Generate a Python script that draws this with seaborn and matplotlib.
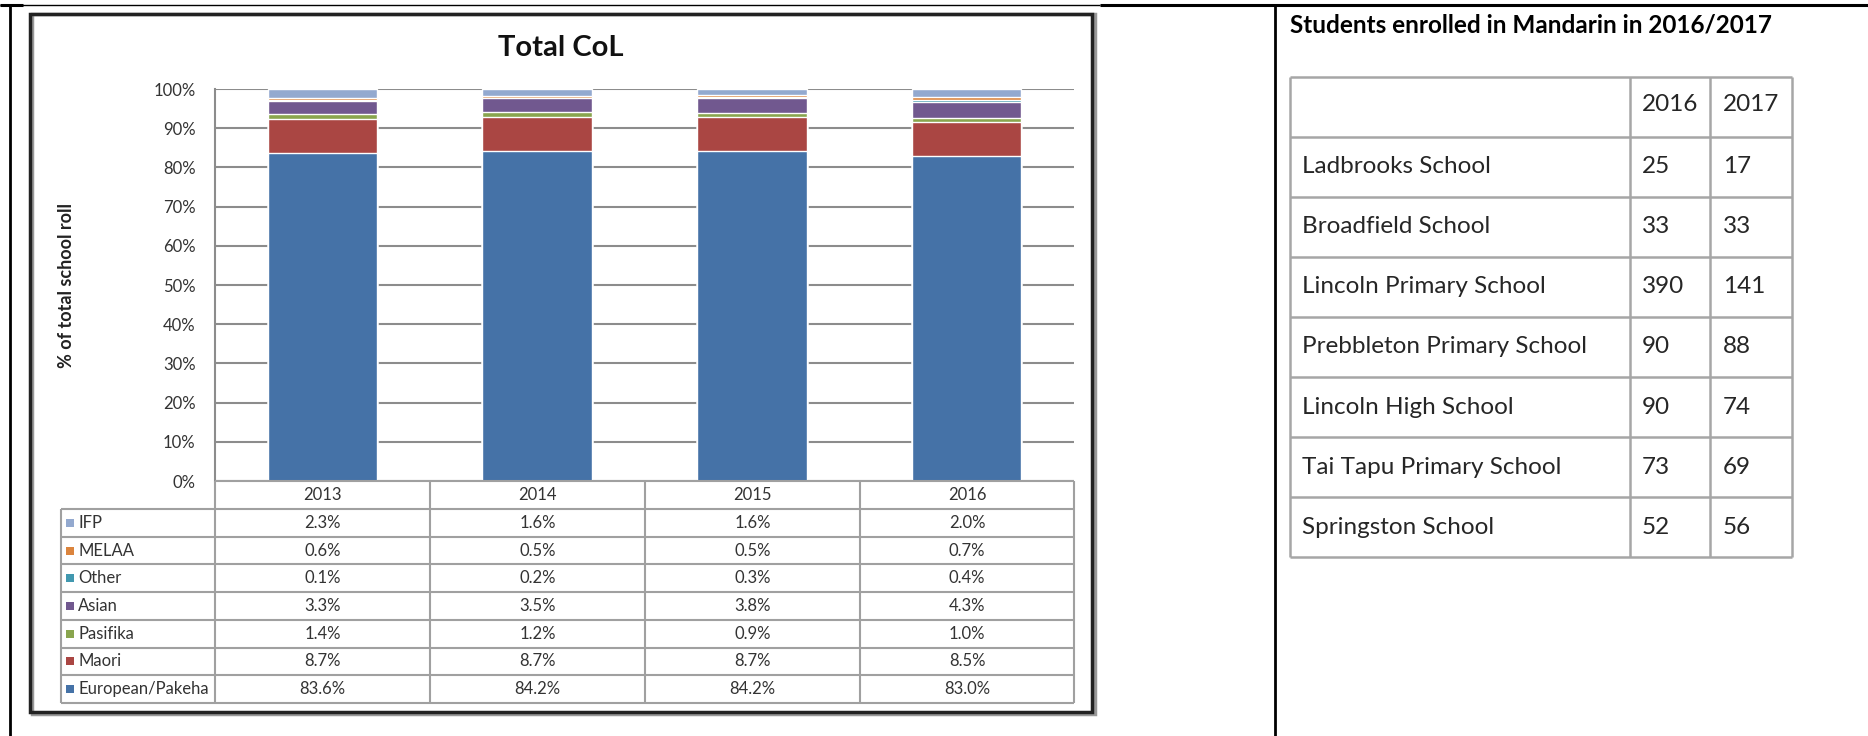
import numpy as np
import pandas as pd
import seaborn as sns
import matplotlib
matplotlib.use('Agg')
import matplotlib.pyplot as plt
from matplotlib.lines import Line2D
from matplotlib.patches import Rectangle

# chart data (percent of total school roll)
years = ['2013', '2014', '2015', '2016']
groups = ['IFP', 'MELAA', 'Other', 'Asian', 'Pasifika', 'Maori', 'European/Pakeha']
ifp = [2.3, 1.6, 1.6, 2.0]
melaa = [0.6, 0.5, 0.5, 0.7]
other = [0.1, 0.2, 0.3, 0.4]
asian = [3.3, 3.5, 3.8, 4.3]
pasifika = [1.4, 1.2, 0.9, 1.0]
maori = [8.7, 8.7, 8.7, 8.5]
european = [83.6, 84.2, 84.2, 83.0]

# mandarin table data
schools = ['Ladbrooks School', 'Broadfield School', 'Lincoln Primary School',
           'Prebbleton Primary School', 'Lincoln High School',
           'Tai Tapu Primary School', 'Springston School']
enrol_2016 = [25, 33, 390, 90, 90, 73, 52]
enrol_2017 = [17, 33, 141, 88, 74, 69, 56]

colors = {'IFP': '#93A9CF', 'MELAA': '#DB843D', 'Other': '#4198AF', 'Asian': '#71588F',
          'Pasifika': '#89A54E', 'Maori': '#AA4643', 'European/Pakeha': '#4572A7'}

series = {'IFP': ifp, 'MELAA': melaa, 'Other': other, 'Asian': asian,
          'Pasifika': pasifika, 'Maori': maori, 'European/Pakeha': european}

sns.set_theme(style='white')
plt.rcParams['font.family'] = ['Lato', 'DejaVu Sans']

W, H = 1868, 736
fig = plt.figure(figsize=(W / 100, H / 100), dpi=100)

def fx(x):
    return x / W

def fy(y):
    return 1 - y / H

def hline(x0, x1, y, lw=1.0, color='black'):
    fig.add_artist(Line2D([fx(x0), fx(x1)], [fy(y), fy(y)], transform=fig.transFigure,
                          color=color, lw=lw, solid_capstyle='butt'))

def vline(x, y0, y1, lw=1.0, color='black'):
    fig.add_artist(Line2D([fx(x), fx(x)], [fy(y0), fy(y1)], transform=fig.transFigure,
                          color=color, lw=lw, solid_capstyle='butt'))

# page table lines
hline(0, 1100, 5, lw=1.0)
hline(0, 23, 5, lw=2.2)
hline(1100, W, 5, lw=2.2)
vline(10, 5, H, lw=2.0)
vline(1275, 5, H, lw=2.0)

# chart frame (with slight shadow)
fig.add_artist(Rectangle((fx(32), fy(714)), fx(1093) - fx(30), fy(14) - fy(714),
                         transform=fig.transFigure, fill=False, ec='#999999', lw=2.5))
fig.add_artist(Rectangle((fx(30), fy(712)), fx(1092) - fx(30), fy(14) - fy(712),
                         transform=fig.transFigure, fill=False, ec='#222222', lw=2.5))

# plot area
px0, px1, py0, py1 = 215, 1074, 89, 481
ax = fig.add_axes([fx(px0), fy(py1), fx(px1) - fx(px0), fy(py0) - fy(py1)])

# stacked bars: draw cumulative totals from the top down
order_bottom_up = groups[::-1]
cum = np.zeros(len(years))
cum_by_group = {}
for g in order_bottom_up:
    cum = cum + np.array(series[g])
    cum_by_group[g] = cum.copy()

for g in groups:
    df = pd.DataFrame({'year': years, 'value': cum_by_group[g]})
    sns.barplot(data=df, x='year', y='value', color=colors[g], width=0.51,
                saturation=1, errorbar=None, ax=ax, zorder=3)

ax.set_ylim(0, 100)
ax.set_xlim(-0.5, 3.5)
ax.set_yticks(np.arange(0, 101, 10))
ax.set_yticklabels([f'{v}%' for v in range(0, 101, 10)], fontsize=12, color='#333333')
ax.tick_params(axis='y', length=0, pad=14)
ax.set_xticks([])
ax.set_xlabel('')
ax.set_ylabel('')
ax.yaxis.grid(True, color='#8c8c8c', lw=1.5)
ax.set_axisbelow(True)
for s in ['top', 'right', 'bottom']:
    ax.spines[s].set_visible(False)
ax.spines['left'].set_color('#8c8c8c')
ax.spines['left'].set_linewidth(1.5)

fig.text(fx(561), fy(48), 'Total CoL', ha='center', va='center',
         fontsize=21, fontweight='bold', color='#111111')
fig.text(fx(66), fy(285), '% of total school roll', rotation=90, ha='center', va='center',
         fontsize=13, fontweight='bold', color='#222222')

# data table under the chart
grid_c = '#a0a0a0'
col_x = [215, 430, 645, 860, 1074]
hdr_top, hdr_bot = 481, 509
row_h = (703 - 509) / 7
hline(215, 1074, hdr_top, lw=1.5, color=grid_c)
for x in col_x:
    vline(x, hdr_top, 703, lw=1.5, color=grid_c)
vline(61, hdr_bot, 703, lw=1.5, color=grid_c)
for i in range(8):
    hline(61, 1074, hdr_bot + i * row_h, lw=1.5, color=grid_c)

for j, yr in enumerate(years):
    cx = (col_x[j] + col_x[j + 1]) / 2
    fig.text(fx(cx), fy((hdr_top + hdr_bot) / 2), yr, ha='center', va='center',
             fontsize=12, color='#333333')

for i, g in enumerate(groups):
    cy = hdr_bot + (i + 0.5) * row_h
    fig.add_artist(Rectangle((fx(66), fy(cy + 4)), fx(8), fy(0) - fy(8),
                             transform=fig.transFigure, color=colors[g], lw=0))
    fig.text(fx(78), fy(cy), g, ha='left', va='center', fontsize=12, color='#333333')
    for j in range(len(years)):
        cx = (col_x[j] + col_x[j + 1]) / 2
        fig.text(fx(cx), fy(cy), f'{series[g][j]:.1f}%', ha='center', va='center',
                 fontsize=12, color='#333333')

# right side: mandarin enrolment table
fig.text(fx(1290), fy(25), 'Students enrolled in Mandarin in 2016/2017', ha='left', va='center',
         fontsize=17.5, fontweight='bold', color='black')

t_grid = '#a6a6a6'
tx = [1290, 1630, 1710, 1792]
ty0, t_row = 76.5, 60.1
n_rows = len(schools) + 1
for x in tx:
    vline(x, ty0, ty0 + n_rows * t_row, lw=1.8, color=t_grid)
for i in range(n_rows + 1):
    hline(tx[0], tx[-1], ty0 + i * t_row, lw=1.8, color=t_grid)

fs = 17.5
fig.text(fx(1642), fy(ty0 + 0.47 * t_row), '2016', ha='left', va='center', fontsize=fs)
fig.text(fx(1723), fy(ty0 + 0.47 * t_row), '2017', ha='left', va='center', fontsize=fs)
for i, s in enumerate(schools):
    cy = ty0 + (i + 1.5) * t_row
    fig.text(fx(1302), fy(cy), s, ha='left', va='center', fontsize=fs)
    fig.text(fx(1642), fy(cy), str(enrol_2016[i]), ha='left', va='center', fontsize=fs)
    fig.text(fx(1723), fy(cy), str(enrol_2017[i]), ha='left', va='center', fontsize=fs)

fig.savefig('out.png', dpi=100, facecolor='white')
